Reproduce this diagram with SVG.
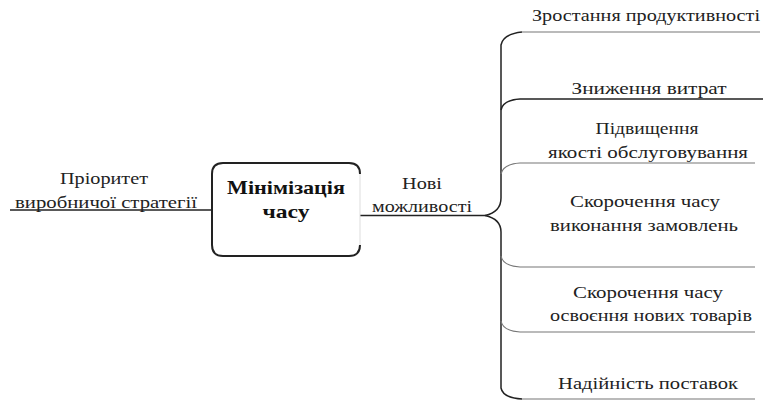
<svg xmlns="http://www.w3.org/2000/svg" width="763" height="400" viewBox="0 0 763 400" font-family="Liberation Serif, DejaVu Serif, serif">
<style>
text{font-family:'Liberation Serif','DejaVu Serif',serif;}
.t{font-size:17px;fill:#222;}
.b{font-size:19px;font-weight:bold;fill:#111;}
.ln{fill:none;stroke:#222;stroke-width:1.5;}
.lg{fill:none;stroke:#777;stroke-width:1.2;}
</style>
<rect width="763" height="400" fill="#fff"/>
<g id="connectors">
<path class="ln" d="M10 210 H212"/>
<path class="ln" d="M360 215.5 H485"/>
<path class="ln" d="M485 215.5 Q501 212 501 198 V45 Q503 34 522 32"/>
<path class="ln" d="M485 215.5 Q501 219 501 232 V388 Q503 398 522 399"/>
<path class="lg" d="M522 32 H760"/>
<path class="ln" d="M501 110 Q503 100 520 99 H763"/>
<path class="lg" d="M501 174 Q503 164 520 163 H755"/>
<path class="lg" d="M501 256 Q503 266 520 267 H755"/>
<path class="lg" d="M501 321 Q503 331 520 332 H755"/>
<path class="lg" d="M522 399 H755"/>
</g>
<g id="priority">
<text class="t" x="104" y="184" text-anchor="middle" textLength="88" lengthAdjust="spacingAndGlyphs">Пріоритет</text>
<text class="t" x="106" y="208" text-anchor="middle" textLength="182" lengthAdjust="spacingAndGlyphs">виробничої стратегії</text>
</g>
<g id="main">
<path d="M360 174 Q360 163 349 163 H223 Q212 163 212 174 V245 Q212 256 223 256 H349 Q360 256 360 245" fill="none" stroke="#222" stroke-width="2"/>
<path d="M360 174 V245" fill="none" stroke="#ddd" stroke-width="1"/>
<text class="b" x="286" y="194" text-anchor="middle" textLength="118" lengthAdjust="spacingAndGlyphs">Мінімізація</text>
<text class="b" x="286" y="218" text-anchor="middle" textLength="47" lengthAdjust="spacingAndGlyphs">часу</text>
</g>
<g id="new">
<text class="t" x="422" y="189" text-anchor="middle" textLength="40" lengthAdjust="spacingAndGlyphs">Нові</text>
<text class="t" x="422" y="212" text-anchor="middle" textLength="100" lengthAdjust="spacingAndGlyphs">можливості</text>
</g>
<g id="n1">
<text class="t" x="646" y="21" text-anchor="middle" textLength="228" lengthAdjust="spacingAndGlyphs">Зростання продуктивності</text>
</g>
<g id="n2">
<text class="t" x="649" y="94" text-anchor="middle" textLength="155" lengthAdjust="spacingAndGlyphs">Зниження витрат</text>
</g>
<g id="n3">
<text class="t" x="647" y="134" text-anchor="middle" textLength="103" lengthAdjust="spacingAndGlyphs">Підвищення</text>
<text class="t" x="648" y="158" text-anchor="middle" textLength="200" lengthAdjust="spacingAndGlyphs">якості обслуговування</text>
</g>
<g id="n4">
<text class="t" x="645" y="207" text-anchor="middle" textLength="150" lengthAdjust="spacingAndGlyphs">Скорочення часу</text>
<text class="t" x="644" y="231" text-anchor="middle" textLength="188" lengthAdjust="spacingAndGlyphs">виконання замовлень</text>
</g>
<g id="n5">
<text class="t" x="648" y="298" text-anchor="middle" textLength="150" lengthAdjust="spacingAndGlyphs">Скорочення часу</text>
<text class="t" x="651" y="321" text-anchor="middle" textLength="202" lengthAdjust="spacingAndGlyphs">освоєння нових товарів</text>
</g>
<g id="n6">
<text class="t" x="648" y="389" text-anchor="middle" textLength="180" lengthAdjust="spacingAndGlyphs">Надійність поставок</text>
</g>
</svg>
